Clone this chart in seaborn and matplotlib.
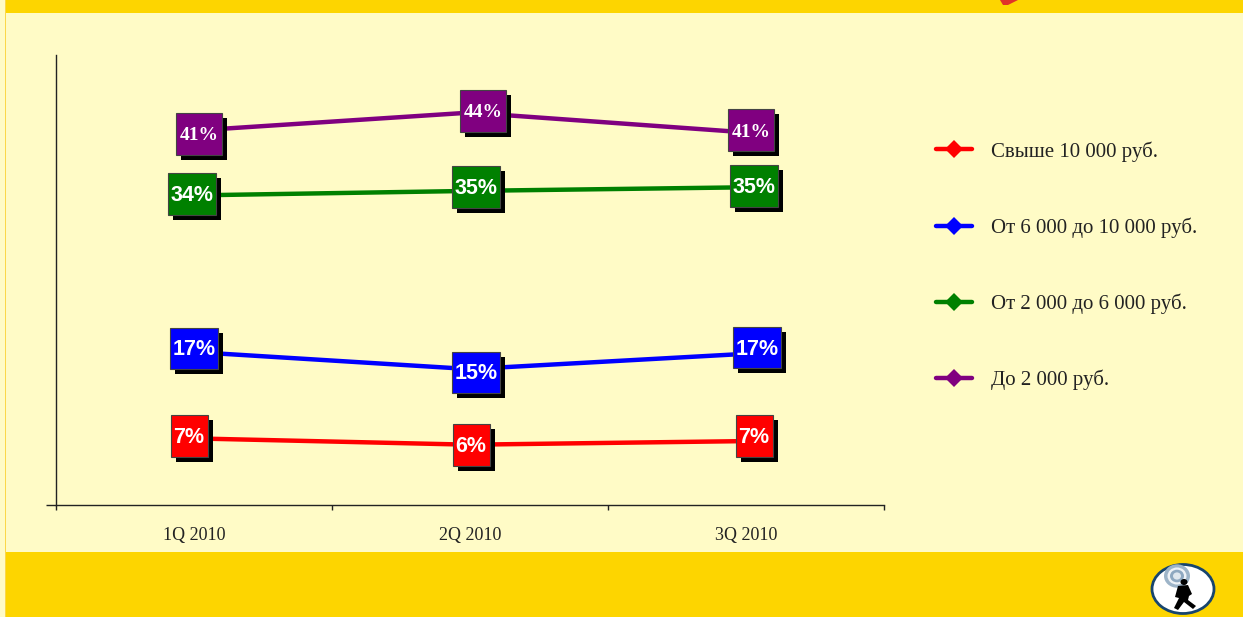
import pandas as pd
import matplotlib
matplotlib.use("Agg")
import matplotlib.pyplot as plt
import seaborn as sns
from matplotlib.patches import Rectangle, Ellipse, Polygon
from matplotlib.transforms import Affine2D

quarters = ["1Q 2010", "2Q 2010", "3Q 2010"]
series_names = ["Свыше 10 000 руб.", "От 6 000 до 10 000 руб.", "От 2 000 до 6 000 руб.", "До 2 000 руб."]
over_10000 = [7.4, 6.7, 7.1]
from_6000 = [17.0, 15.1, 16.8]
from_2000 = [34.4, 34.9, 35.3]
under_2000 = [41.6, 43.6, 41.4]
label_over_10000 = ["7%", "6%", "7%"]
label_from_6000 = ["17%", "15%", "17%"]
label_from_2000 = ["34%", "35%", "35%"]
label_under_2000 = ["41%", "44%", "41%"]
colors = ["#ff0000", "#0000ff", "#008000", "#800080"]

W, H = 1243, 617
CREAM = "#fffbc6"
YELLOW = "#fdd500"

df = pd.DataFrame({
    "quarter": quarters * 4,
    "share": over_10000 + from_6000 + from_2000 + under_2000,
    "series": [n for n in series_names for q in quarters],
})

sns.set_style("white")
plt.rcParams["font.family"] = ["Liberation Serif", "DejaVu Sans"]

fig = plt.figure(figsize=(W / 100, H / 100), dpi=100, facecolor=CREAM)

# slide background, in pixel coordinates
bg = fig.add_axes([0, 0, 1, 1], zorder=0)
bg.set_xlim(0, W)
bg.set_ylim(H, 0)
bg.axis("off")
bg.add_patch(Rectangle((5, 0), W, 12.5, color=YELLOW, lw=0))
bg.add_patch(Rectangle((5, 552), W, 65, color=YELLOW, lw=0))
bg.add_patch(Rectangle((5, 0), 1.2, H, color="#fbd74a", lw=0))
bg.add_patch(Polygon([[1000, 0], [1018, 0], [1008, 5], [1003, 5]], color="#e0322a", lw=0))

# logo
bg.add_patch(Ellipse((1183, 589), 62, 49, fc="white", ec="#17456e", lw=2))
for d, c in [(26, "#9db4c8"), (19, "#eef2f6"), (14, "#8ea8c0"), (8, "#dfe7ee")]:
    bg.add_patch(Ellipse((1177, 576), d, d * 0.9, fc=c, lw=0))
bg.add_patch(Ellipse((1184, 582), 7, 6, fc="black", lw=0))
bg.add_patch(Polygon([[1178, 586], [1188, 585], [1192, 594], [1189, 596], [1188, 600], [1196, 606],
                      [1193, 609], [1184, 602], [1178, 610], [1174, 608], [1179, 598], [1175, 597]],
                     color="black", lw=0))

ax = fig.add_axes([56 / W, 1 - 505 / H, (884 - 56) / W, 450 / H], zorder=1)
ax.patch.set_alpha(0)
sns.lineplot(data=df, x="quarter", y="share", hue="series", hue_order=series_names,
             palette=colors, sort=False, lw=3.2, marker="D", ms=9.5, mew=0, ax=ax)
ax.set_xlim(-0.5, 2.5)
ax.set_ylim(0, 50)
ax.set_xlabel("")
ax.set_ylabel("")

sns.despine(ax=ax)
for s in ["left", "bottom"]:
    ax.spines[s].set_color("#222222")
    ax.spines[s].set_linewidth(1)
ax.set_yticks([0])
ax.set_yticklabels([])
ax.tick_params(axis="y", which="major", left=True, length=7.5, width=1, color="#222222")
ax.set_xticks([-0.5, 0.5, 1.5, 2.5])
ax.set_xticklabels([])
ax.tick_params(axis="x", which="major", bottom=True, length=3.5, width=1, color="#222222")
ax.set_xticks([0, 1, 2], minor=True)
ax.set_xticklabels(quarters, minor=True, fontsize=13, color="#222222")
ax.tick_params(axis="x", which="minor", bottom=False, pad=14)

# data label boxes: offset of the box centre from the point and box size, px
value_rows = [over_10000, from_6000, from_2000, under_2000]
label_rows = [label_over_10000, label_from_6000, label_from_2000, label_under_2000]
box_offsets = [
    [(-5, 2), (1, 0), (8, 5)],
    [(0, 4), (6, -3), (11, 6)],
    [(-2, 1), (6, 4), (8, 1)],
    [(5, -3), (13, 2), (5, 2)],
]
box_sizes = [(37, 42), (48, 41), (48, 42), (46, 42)]
fig.canvas.draw()
for r in range(4):
    w, h = box_sizes[r]
    for i in range(3):
        px, py = ax.transData.transform((i, value_rows[r][i]))
        dx, dy = box_offsets[r][i]
        tr = Affine2D().translate(px + dx, py + dy)
        ax.add_patch(Rectangle((-w / 2 + 5, -h / 2 - 5), w, h, fc="black", lw=0, transform=tr, zorder=5))
        ax.add_patch(Rectangle((-w / 2, -h / 2), w, h, fc=colors[r], ec="#444444", lw=0.8, transform=tr, zorder=6))
        if r == 3:
            ax.text(0, 0, label_rows[r][i], transform=tr, ha="center", va="center_baseline", color="white",
                    fontsize=14, fontweight="bold", family="Liberation Serif", zorder=7)
        else:
            ax.text(0, 1, label_rows[r][i], transform=tr, ha="center", va="center_baseline", color="white",
                    fontsize=15.5, fontweight="bold", family="Liberation Sans", zorder=7)

# legend
handles, labels = ax.get_legend_handles_labels()
ax.legend(handles, labels, loc="upper left", bbox_to_anchor=(936 / W, 1 - 141 / H),
          bbox_transform=fig.transFigure, frameon=False, fontsize=15, labelcolor="#222222",
          borderpad=0, borderaxespad=0, handlelength=1.75, handletextpad=0.9, labelspacing=2.68)

fig.savefig("out.png", dpi=100, facecolor=CREAM)
